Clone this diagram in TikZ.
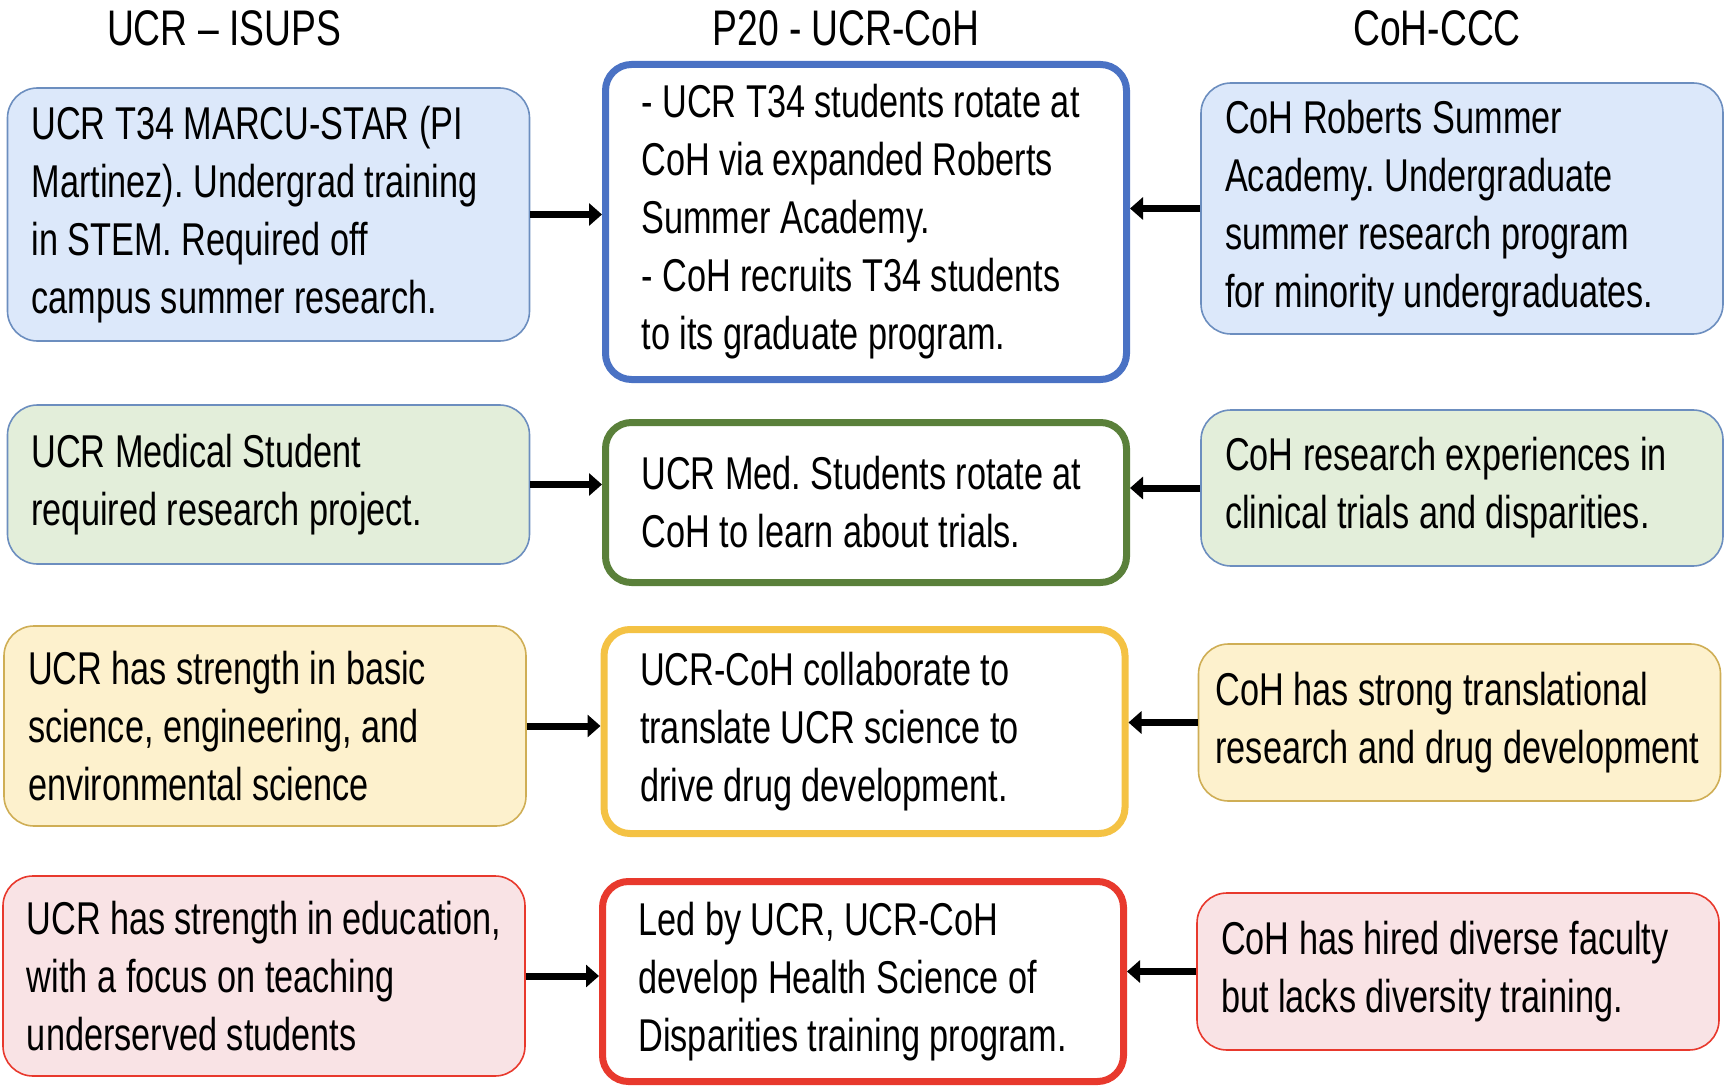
\documentclass[tikz,border=0pt]{standalone}
\usepackage{fontspec}
\setmainfont{Liberation Sans}[FakeStretch=0.745]
\usetikzlibrary{arrows.meta}

\definecolor{bluefill}{HTML}{DCE8FA}
\definecolor{blueline}{HTML}{6C8EBF}
\definecolor{bluebold}{HTML}{4A72C4}
\definecolor{greenfill}{HTML}{E3EEDA}
\definecolor{greenbold}{HTML}{5A803A}
\definecolor{yellowfill}{HTML}{FDF1CD}
\definecolor{yellowline}{HTML}{CFAE55}
\definecolor{yellowbold}{HTML}{F4C244}
\definecolor{redfill}{HTML}{F9E3E5}
\definecolor{redline}{HTML}{E8392D}

\newcommand{\bodysize}{\fontsize{46}{58}\selectfont\hyphenpenalty=10000\frenchspacing}
\newcommand{\headsize}{\fontsize{50}{58}\selectfont}

\tikzset{
  side/.style 2 args={draw=#1, fill=#2, line width=1.6pt, rounded corners=30pt,
    text width=474pt, inner xsep=24pt, align=flush left, font=\bodysize},
  mid/.style={draw=#1, fill=white, line width=7pt, rounded corners=26pt,
    text width=449pt, inner xsep=36pt, align=flush left, font=\bodysize},
  head/.style={anchor=base, font=\headsize},
  arr/.style={line width=7pt, -{Triangle[length=13pt,width=22pt]}}
}

\begin{document}
\begin{tikzpicture}[x=1pt,y=-1pt]
  \useasboundingbox (0,0) rectangle (1727,1091);

  % column heads
  \node[head] (h1) at (224,46) {UCR – ISUPS};
  \node[head] (h2) at (846,46) {P20 - UCR-CoH};
  \node[head] (h3) at (1437,46) {CoH-CCC};

  % UCR side
  \node[side={blueline}{bluefill}, minimum height=253pt] (l1) at (268.5,214.5)
    {UCR T34 MARCU-STAR (PI\\ Martinez). Undergrad training\\ in STEM. Required off\\ campus summer research.};
  \node[side={blueline}{greenfill}, minimum height=159pt] (l2) at (268.5,484.5)
    {UCR Medical Student\\ required research project.};
  \node[side={yellowline}{yellowfill}, minimum height=200pt] (l3) at (265,726)
    {UCR has strength in basic\\ science, engineering, and\\ environmental science};
  \node[side={redline}{redfill}, minimum height=200pt] (l4) at (264,976)
    {UCR has strength in education,\\ with a focus on teaching\\ underserved students};

  % joint P20 boxes
  \node[mid=bluebold, minimum height=315pt] (m1) at (866,222)
    {- UCR T34 students rotate at\\ CoH via expanded Roberts\\ Summer Academy.\\ - CoH recruits T34 students\\ to its graduate program.};
  \node[mid=greenbold, minimum height=160pt] (m2) at (866,502.5)
    {UCR Med. Students rotate at\\ CoH to learn about trials.};
  \node[mid=yellowbold, minimum height=204pt] (m3) at (864.5,731.5)
    {UCR-CoH collaborate to\\ translate UCR science to\\ drive drug development.};
  \node[mid=redline, minimum height=200pt] (m4) at (863,981.5)
    {Led by UCR, UCR-CoH\\ develop Health Science of\\ Disparities training program.};

  % CoH side
  \node[side={blueline}{bluefill}, minimum height=251pt] (r1) at (1462,208.5)
    {CoH Roberts Summer\\ Academy. Undergraduate\\ summer research program\\ for minority undergraduates.};
  \node[side={blueline}{greenfill}, minimum height=156pt] (r2) at (1462,488)
    {CoH research experiences in\\ clinical trials and disparities.};
  \node[side={yellowline}{yellowfill}, minimum height=157pt, text width=488pt, inner xsep=17pt] (r3) at (1459.5,722.5)
    {CoH has strong translational\\ research and drug development};
  \node[side={redline}{redfill}, minimum height=157pt] (r4) at (1458,971.5)
    {CoH has hired diverse faculty\\ but lacks diversity training.};

  % arrows into the middle column
  \foreach \i in {1,...,4}{
    \draw[arr] (l\i.east) -- (m\i.west |- l\i.east);
    \draw[arr] (r\i.west) -- (m\i.east |- r\i.west);
  }
\end{tikzpicture}
\end{document}
